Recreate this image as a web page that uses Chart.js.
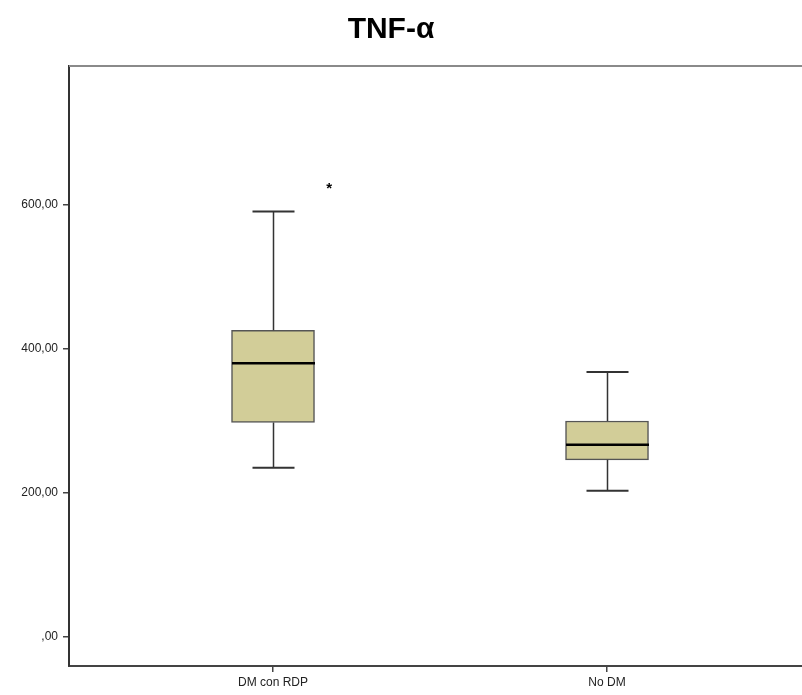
<!DOCTYPE html>
<html><head><meta charset="utf-8">
<script src="https://cdn.jsdelivr.net/npm/chart.js@4.4.0/dist/chart.umd.min.js"></script>
<style>html,body{margin:0;padding:0;background:#fff;overflow:hidden;}#wrap{width:822px;height:695px;position:relative;margin-left:-20px;}</style>
</head><body><div id="wrap"><canvas id="c"></canvas></div>
<script>
const categories = ['DM con RDP', 'No DM'];
const whiskerLow = [235, 203];
const q1 = [298, 246];
const median = [380, 267];
const q3 = [426, 300];
const whiskerHigh = [591, 368];
const outliers = [[627], []];
const yTicks = [0, 200, 400, 600];

const fmt = v => v === 0 ? ',00' : v.toFixed(2).replace('.', ',');
const catPos = categories.map((c, i) => i + 1);

const boxPlugin = {
  id: 'boxParts',
  afterDatasetsDraw(chart) {
    const ctx = chart.ctx, xs = chart.scales.x, ys = chart.scales.y;
    ctx.save();
    catPos.forEach((p, i) => {
      const cx = Math.round(xs.getPixelForValue(p)) + 0.5;
      const capHalf = 21, boxHalf = 41.5;
      ctx.strokeStyle = '#333';
      ctx.lineWidth = 1.5;
      ctx.beginPath();
      ctx.moveTo(cx, ys.getPixelForValue(whiskerLow[i]));
      ctx.lineTo(cx, ys.getPixelForValue(q1[i]));
      ctx.moveTo(cx, ys.getPixelForValue(q3[i]));
      ctx.lineTo(cx, ys.getPixelForValue(whiskerHigh[i]));
      ctx.stroke();
      ctx.lineWidth = 2;
      ctx.beginPath();
      ctx.moveTo(cx - capHalf, ys.getPixelForValue(whiskerLow[i]));
      ctx.lineTo(cx + capHalf, ys.getPixelForValue(whiskerLow[i]));
      ctx.moveTo(cx - capHalf, ys.getPixelForValue(whiskerHigh[i]));
      ctx.lineTo(cx + capHalf, ys.getPixelForValue(whiskerHigh[i]));
      ctx.stroke();
      ctx.strokeStyle = '#000';
      ctx.lineWidth = 2.5;
      ctx.beginPath();
      ctx.moveTo(cx - boxHalf, ys.getPixelForValue(median[i]));
      ctx.lineTo(cx + boxHalf, ys.getPixelForValue(median[i]));
      ctx.stroke();
      ctx.fillStyle = '#000';
      ctx.font = 'bold 15px "Liberation Sans", Arial, sans-serif';
      ctx.textAlign = 'center';
      ctx.textBaseline = 'middle';
      outliers[i].forEach(v => {
        ctx.fillText('*', xs.getPixelForValue(p + 0.168), ys.getPixelForValue(v) + 3);
      });
    });
    const a = chart.chartArea;
    ctx.strokeStyle = '#8a8a8a';
    ctx.lineWidth = 2;
    ctx.beginPath();
    ctx.moveTo(a.left, a.top);
    ctx.lineTo(a.right, a.top);
    ctx.stroke();
    ctx.restore();
  }
};

new Chart(document.getElementById('c'), {
  type: 'bar',
  data: {
    datasets: [{
      data: catPos.map((p, i) => ({ x: p, y: [q1[i], q3[i]] })),
      backgroundColor: '#d2cd98',
      borderColor: '#555',
      borderWidth: 1.5,
      borderSkipped: false,
      barThickness: 83
    }]
  },
  options: {
    responsive: true,
    maintainAspectRatio: false,
    animation: false,
    layout: { padding: { left: 0, right: 0, top: 0, bottom: 0 } },
    plugins: {
      legend: { display: false },
      tooltip: { enabled: false },
      title: {
        display: true,
        text: 'TNF-α',
        color: '#000',
        font: { family: '"Liberation Sans", Arial, sans-serif', size: 30, weight: 'bold' },
        padding: { top: 12, bottom: 18 }
      }
    },
    scales: {
      x: {
        type: 'linear',
        offset: false,
        min: 0.3892,
        max: 2.5838,
        afterBuildTicks: s => { s.ticks = catPos.map(v => ({ value: v })); },
        afterFit: s => { s.height = 29; },
        ticks: {
          callback: v => categories[v - 1] || '',
          color: '#222',
          font: { family: '"Liberation Sans", Arial, sans-serif', size: 12 },
          padding: 3,
          maxRotation: 0,
          autoSkip: false
        },
        grid: { display: true, offset: false, drawOnChartArea: false, drawTicks: true, tickLength: 6, color: '#444', lineWidth: 1.5 },
        border: { display: true, color: '#444', width: 2 }
      },
      y: {
        min: -40.3,
        max: 793,
        afterBuildTicks: s => { s.ticks = yTicks.map(v => ({ value: v })); },
        afterFit: s => { s.width = 89; },
        ticks: {
          callback: v => fmt(v),
          color: '#222',
          font: { family: '"Liberation Sans", Arial, sans-serif', size: 12 },
          padding: 5
        },
        grid: { display: true, drawOnChartArea: false, drawTicks: true, tickLength: 6, color: '#444', lineWidth: 1.5 },
        border: { display: true, color: '#333', width: 2 }
      }
    }
  },
  plugins: [boxPlugin]
});
</script></body></html>
